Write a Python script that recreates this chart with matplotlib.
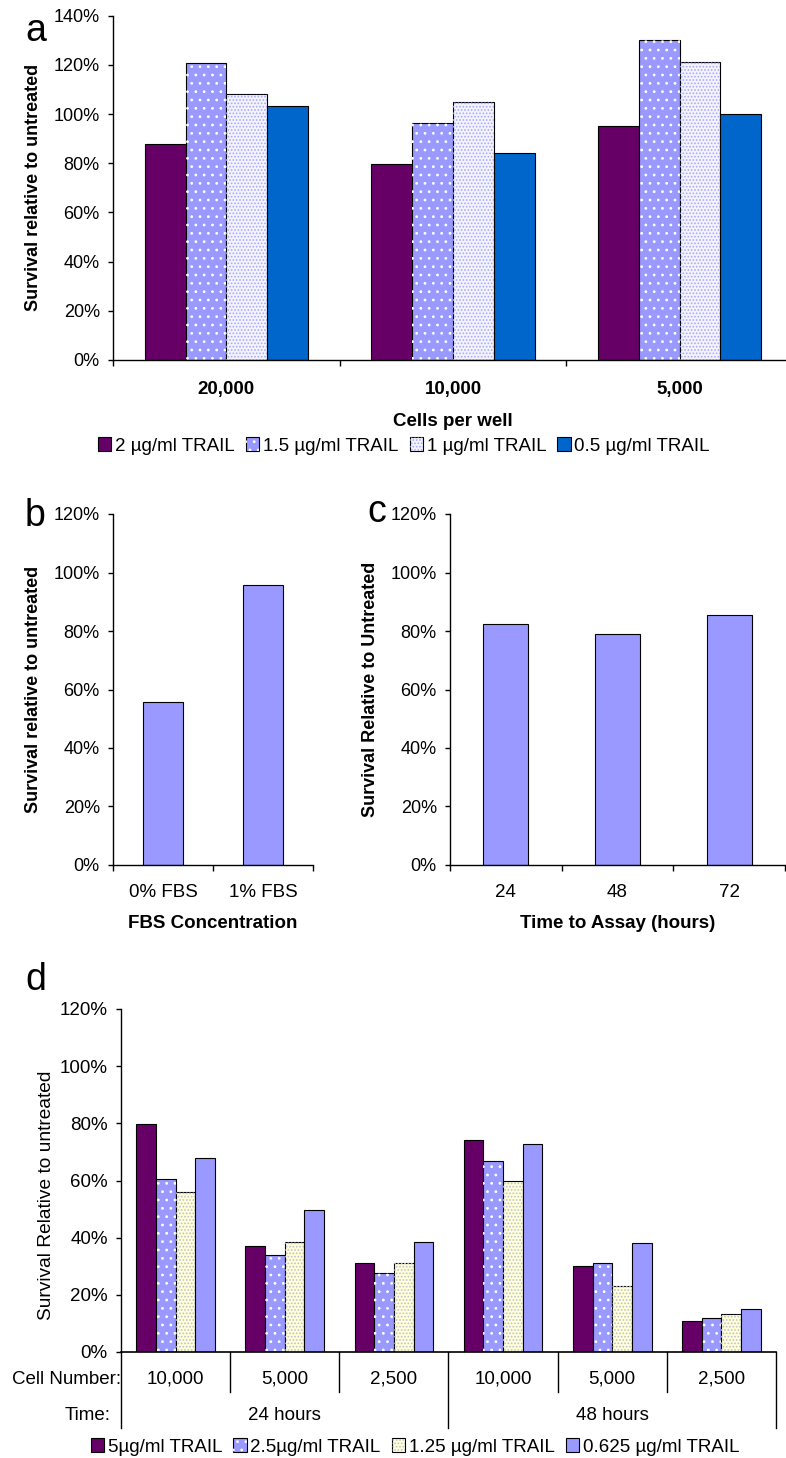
import matplotlib
matplotlib.use("Agg")
import matplotlib.pyplot as plt
import numpy as np
from matplotlib.patches import Patch
from matplotlib.legend_handler import HandlerTuple
from matplotlib.ticker import FuncFormatter

#-------------------------------------------------------------------------------
# Data
#-------------------------------------------------------------------------------

# panel a
a_cells = ['20,000', '10,000', '5,000']
a_doses = ['2 µg/ml TRAIL', '1.5 µg/ml TRAIL', '1 µg/ml TRAIL', '0.5 µg/ml TRAIL']
a_2ug = [88, 79.6, 95.2]
a_15ug = [120.8, 96.4, 130]
a_1ug = [108.2, 105.1, 121.1]
a_05ug = [103.2, 84.2, 100.1]

# panel b
b_labels = ['0% FBS', '1% FBS']
b_vals = [55.8, 95.6]

# panel c
c_labels = ['24', '48', '72']
c_vals = [82.4, 79.0, 85.5]

# panel d
d_cells = ['10,000', '5,000', '2,500', '10,000', '5,000', '2,500']
d_times = ['24 hours', '48 hours']
d_doses = ['5µg/ml TRAIL', '2.5µg/ml TRAIL', '1.25 µg/ml TRAIL', '0.625 µg/ml TRAIL']
d_5ug = [79.9, 37.1, 31.0, 74.3, 30.1, 10.7]
d_25ug = [60.6, 34.0, 27.5, 66.9, 31.3, 12.0]
d_125ug = [55.9, 38.4, 31.3, 60.0, 23.0, 13.4]
d_0625ug = [68.0, 49.7, 38.6, 72.9, 38.3, 15.2]

#-------------------------------------------------------------------------------
# Style
#-------------------------------------------------------------------------------
plt.rcParams['font.family'] = ['Liberation Sans', 'DejaVu Sans']
plt.rcParams['hatch.linewidth'] = 0.8

W, H = 786, 1458
fig = plt.figure(figsize=(W / 100, H / 100), dpi=100)

PURPLE = '#660066'
PERI = '#9999FF'
BLUE = '#0066CC'

# (face, hatch colour, hatch)
a_styles = [(PURPLE, None, None), (PERI, 'white', '..'),
            ('#F4F4FF', '#A8A8FF', '.....'), (BLUE, None, None)]
d_styles = [(PURPLE, None, None), (PERI, 'white', '..'),
            ('#FFFFD8', '#C0C0D0', '.....'), (PERI, None, None)]


def px_axes(l, t, r, b):
    return fig.add_axes([l / W, 1 - b / H, (r - l) / W, (b - t) / H])


def pct(v, pos):
    return '%d%%' % v


def style_axes(ax, ymax, ystep):
    ax.spines['top'].set_visible(False)
    ax.spines['right'].set_visible(False)
    ax.spines['left'].set_linewidth(1.0)
    ax.spines['bottom'].set_linewidth(1.0)
    ax.set_ylim(0, ymax)
    ax.set_yticks(np.arange(0, ymax + 1, ystep))
    ax.yaxis.set_major_formatter(FuncFormatter(pct))
    ax.tick_params(axis='y', direction='out', length=3.5, width=1.0,
                   pad=6, labelsize=13)


def draw_bars(ax, x, vals, width, style):
    face, dots, hatch = style
    ax.bar(x, vals, width, color=face, edgecolor='black', linewidth=0.8)
    if hatch:
        ax.bar(x, vals, width, facecolor='none', edgecolor=dots,
               hatch=hatch, linewidth=0)


def legend_handles(styles):
    hs = []
    for face, dots, hatch in styles:
        base = Patch(facecolor=face, edgecolor='black', linewidth=0.8)
        if hatch:
            hs.append((base, Patch(facecolor='none', edgecolor=dots,
                                   hatch=hatch, linewidth=0)))
        else:
            hs.append(base)
    return hs


#-------------------------------------------------------------------------------
# Panel a
#-------------------------------------------------------------------------------
ax_a = px_axes(113, 15.7, 793, 360)
style_axes(ax_a, 140, 20)
xa = np.arange(len(a_cells))
bw = 0.18
for i, (vals, st) in enumerate(zip([a_2ug, a_15ug, a_1ug, a_05ug], a_styles)):
    draw_bars(ax_a, xa + (i - 1.5) * bw, vals, bw, st)
ax_a.set_xlim(-0.5, len(a_cells) - 0.5)
ax_a.set_xticks(np.arange(len(a_cells) + 1) - 0.5)
ax_a.set_xticklabels([])
ax_a.set_xticks(xa, minor=True)
ax_a.set_xticklabels(a_cells, minor=True, fontsize=13.5, fontweight='bold')
ax_a.tick_params(axis='x', which='major', direction='out', length=4, width=1.0)
ax_a.tick_params(axis='x', which='minor', length=0, pad=15)
ax_a.set_ylabel('Survival relative to untreated', fontsize=13, fontweight='bold',
                labelpad=8)
ax_a.set_xlabel('Cells per well', fontsize=13.5, fontweight='bold', labelpad=11)
fig.legend(legend_handles(a_styles), a_doses, loc='center',
           bbox_to_anchor=(404 / W, 1 - 446 / H), ncol=4, frameon=False,
           fontsize=13.5, handlelength=0.7, handleheight=0.7,
           handletextpad=0.2, columnspacing=0.6,
           handler_map={tuple: HandlerTuple(ndivide=1)})

#-------------------------------------------------------------------------------
# Panel b
#-------------------------------------------------------------------------------
ax_b = px_axes(113, 514, 313, 865)
style_axes(ax_b, 120, 20)
xb = np.arange(len(b_labels))
ax_b.bar(xb, b_vals, 0.4, color=PERI, edgecolor='black', linewidth=0.8)
ax_b.set_xlim(-0.5, len(b_labels) - 0.5)
ax_b.set_xticks(np.arange(len(b_labels) + 1) - 0.5)
ax_b.set_xticklabels([])
ax_b.set_xticks(xb, minor=True)
ax_b.set_xticklabels(b_labels, minor=True, fontsize=13.5)
ax_b.tick_params(axis='x', which='major', direction='out', length=4, width=1.0)
ax_b.tick_params(axis='x', which='minor', length=0, pad=14)
ax_b.set_ylabel('Survival relative to untreated', fontsize=13, fontweight='bold',
                labelpad=8)
ax_b.set_xlabel('FBS Concentration', fontsize=13.5, fontweight='bold', labelpad=10)

#-------------------------------------------------------------------------------
# Panel c
#-------------------------------------------------------------------------------
ax_c = px_axes(450, 514, 785, 865)
style_axes(ax_c, 120, 20)
xc = np.arange(len(c_labels))
ax_c.bar(xc, c_vals, 0.4, color=PERI, edgecolor='black', linewidth=0.8)
ax_c.set_xlim(-0.5, len(c_labels) - 0.5)
ax_c.set_xticks(np.arange(len(c_labels) + 1) - 0.5)
ax_c.set_xticklabels([])
ax_c.set_xticks(xc, minor=True)
ax_c.set_xticklabels(c_labels, minor=True, fontsize=13.5)
ax_c.tick_params(axis='x', which='major', direction='out', length=4, width=1.0)
ax_c.tick_params(axis='x', which='minor', length=0, pad=14)
ax_c.set_ylabel('Survival Relative to Untreated', fontsize=13, fontweight='bold',
                labelpad=8)
ax_c.set_xlabel('Time to Assay (hours)', fontsize=13.5, fontweight='bold',
                labelpad=10)

#-------------------------------------------------------------------------------
# Panel d
#-------------------------------------------------------------------------------
ax_d = px_axes(121, 1009, 776, 1352)
style_axes(ax_d, 120, 20)
ax_d.tick_params(axis='y', labelsize=13.5)
xd = np.arange(len(d_cells))
for i, (vals, st) in enumerate(zip([d_5ug, d_25ug, d_125ug, d_0625ug], d_styles)):
    draw_bars(ax_d, xd + (i - 1.5) * bw, vals, bw, st)
ax_d.set_xlim(-0.5, len(d_cells) - 0.5)
ax_d.set_xticks([])
ax_d.spines['bottom'].set_linewidth(1.2)

# two-level category axis drawn below the plot
trans = ax_d.get_xaxis_transform()
axh = 1352 - 1009
y_short = -40 / axh
y_long = -76 / axh
bounds = np.arange(len(d_cells) + 1) - 0.5
ngrp = len(d_cells) // len(d_times)
for k, xb_ in enumerate(bounds):
    ylow = y_long if k % ngrp == 0 else y_short
    ax_d.plot([xb_, xb_], [0, ylow], color='black', lw=1.0, transform=trans,
              clip_on=False)
for x_, lab in zip(xd, d_cells):
    ax_d.text(x_, -27 / axh, lab, transform=trans, ha='center', va='center',
              fontsize=13.5)
for k, lab in enumerate(d_times):
    xm = (bounds[k * ngrp] + bounds[(k + 1) * ngrp]) / 2
    ax_d.text(xm, -64 / axh, lab, transform=trans, ha='center', va='center',
              fontsize=13.5)
fig.text(121 / W, 1 - 1379 / H, 'Cell Number:', ha='right', va='center',
         fontsize=13.5)
fig.text(111 / W, 1 - 1416 / H, 'Time:', ha='right', va='center', fontsize=13.5)
fig.text(47 / W, 1 - 1195 / H, 'Survival Relative to untreated', rotation=90,
         ha='center', va='center', fontsize=13.8)
fig.legend(legend_handles(d_styles), d_doses, loc='center',
           bbox_to_anchor=(415 / W, 1 - 1447 / H), ncol=4, frameon=False,
           fontsize=13.5, handlelength=0.7, handleheight=0.7,
           handletextpad=0.2, columnspacing=0.6,
           handler_map={tuple: HandlerTuple(ndivide=1)})

# panel letters
for lab, x_, y_ in [('a', 25, 41), ('b', 25, 526), ('c', 367, 522), ('d', 25, 990)]:
    fig.text(x_ / W, 1 - y_ / H, lab, fontsize=27, ha='left', va='baseline')

fig.savefig('out.png', dpi=100)
